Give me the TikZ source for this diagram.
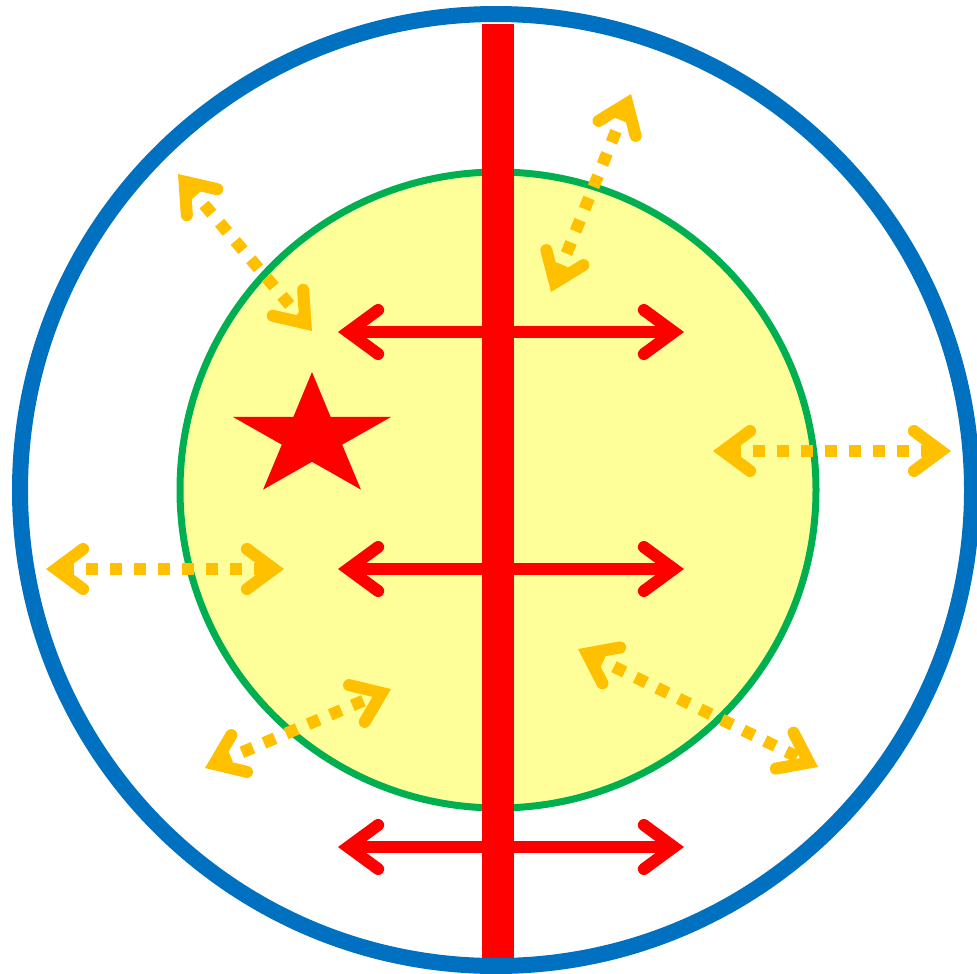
\documentclass[tikz,border=0pt]{standalone}
\usetikzlibrary{arrows.meta}
\definecolor{ringblue}{HTML}{0070C0}
\definecolor{cgreen}{HTML}{00B050}
\definecolor{cyellow}{HTML}{FFFF99}
\definecolor{corange}{HTML}{FFC000}
\definecolor{cred}{HTML}{FF0000}
\tikzset{
  redarrow/.style={draw=cred, line width=12pt, line cap=round,
    {Straight Barb[length=30pt, width=44pt, line cap=round, line join=miter]}-{Straight Barb[length=30pt, width=44pt, line cap=round, line join=miter]}},
  orangearrow/.style={draw=corange, line width=12pt, dash pattern=on 12pt off 12pt,
    {Straight Barb[length=27pt, width=40pt, line cap=round, line join=miter]}-{Straight Barb[length=27pt, width=40pt, line cap=round, line join=miter]}}
}
\begin{document}
\begin{tikzpicture}[x=1pt,y=-1pt]
\useasboundingbox (0,0) rectangle (977,974);
\fill[white] (0,0) rectangle (977,974);
% inner yellow circle
\node[circle, draw=cgreen, fill=cyellow, line width=7pt, minimum size=636pt, inner sep=0pt] (inner) at (498,490) {};
% red vertical bar
\fill[cred] (482,24) rectangle (514,958);
% outer blue ring
\node[circle, draw=ringblue, line width=16pt, minimum size=952pt, inner sep=0pt] (outer) at (496,490) {};
% red double arrows
\coordinate (r1a) at (338,332); \coordinate (r1b) at (684,332);
\coordinate (r2a) at (338,569); \coordinate (r2b) at (684,569);
\coordinate (r3a) at (338,847); \coordinate (r3b) at (684,847);
\draw[redarrow] (r1a) -- (r1b);
\draw[redarrow] (r2a) -- (r2b);
\draw[redarrow] (r3a) -- (r3b);
% star
\fill[cred, shift={(312,437)}, xscale=1.28]
  (90:-65) -- (126:-24.8) -- (162:-65) -- (198:-24.8) -- (234:-65) -- (270:-24.8)
  -- (306:-65) -- (342:-24.8) -- (18:-65) -- (54:-24.8) -- cycle;
% orange dotted double arrows
\coordinate (o1a) at (178,174); \coordinate (o1b) at (312,331);
\coordinate (o2a) at (631,94);  \coordinate (o2b) at (551,292);
\coordinate (o3a) at (713,451); \coordinate (o3b) at (951,451);
\coordinate (o4a) at (46,569);  \coordinate (o4b) at (284,569);
\coordinate (o5a) at (205,768); \coordinate (o5b) at (391,689);
\coordinate (o6a) at (578,649); \coordinate (o6b) at (818,767);
\draw[orangearrow] (o1a) -- (o1b);
\draw[orangearrow] (o2a) -- (o2b);
\draw[orangearrow] (o3a) -- (o3b);
\draw[orangearrow] (o4a) -- (o4b);
\draw[orangearrow] (o5a) -- (o5b);
\draw[orangearrow] (o6a) -- (o6b);
\end{tikzpicture}
\end{document}
